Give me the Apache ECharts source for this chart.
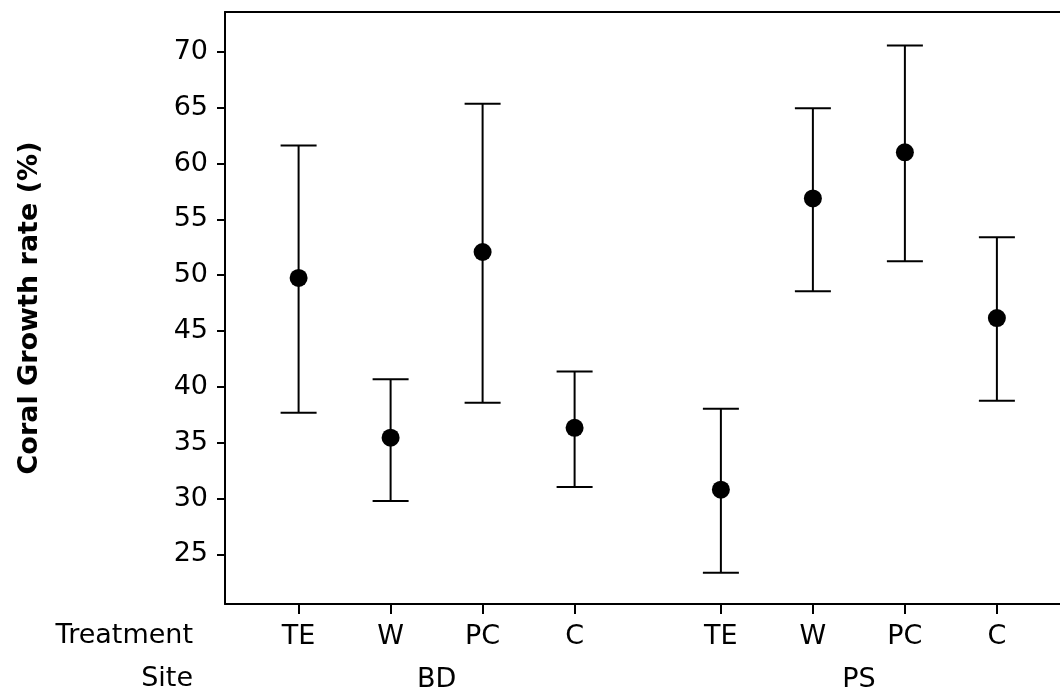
<!DOCTYPE html>
<html><head><meta charset="utf-8">
<script src="https://cdn.jsdelivr.net/npm/echarts@6/dist/echarts.min.js"></script>
<style>html,body{margin:0;padding:0;background:#fff}#c{width:1060px;height:695px}</style>
</head><body><div id="c"></div>
<script>
const treatments = ['TE', 'W', 'PC', 'C'];
const sites = ['BD', 'PS'];
const means = [49.76, 35.45, 52.08, 36.34, 30.80, 56.88, 61.01, 46.16];
const upper = [61.61, 40.68, 65.36, 41.39, 38.04, 64.96, 70.56, 53.39];
const lower = [37.68, 29.79, 38.57, 31.04, 23.36, 48.57, 51.25, 38.75];
const yTicks = [25, 30, 35, 40, 45, 50, 55, 60, 65, 70];
const yMin = 20.56, yMax = 73.57;
const xMin = 0.2, xMax = 9.276;
const yTitle = 'Coral Growth rate (%)';

const groupGap = 1.59;
const xPos = [], xLab = [], siteCenters = [];
sites.forEach((s, si) => {
  const g = [];
  treatments.forEach((t, ti) => {
    const x = +(1 + ti + si * (treatments.length - 1 + groupGap)).toFixed(4);
    xPos.push(x); xLab.push(t); g.push(x);
  });
  siteCenters.push(+((g[0] + g[g.length - 1]) / 2).toFixed(4));
});
const findLab = (v, arr, labs) => { for (let i = 0; i < arr.length; i++) if (Math.abs(arr[i] - v) < 1e-6) return labs[i]; return ''; };

const FONT = 'DejaVu Sans';
const txt = { color: '#000', fontFamily: FONT, fontSize: 27 };
const black2 = { color: '#000', width: 2 };
const chart = echarts.init(document.getElementById('c'));
chart.setOption({
  animation: false,
  backgroundColor: '#fff',
  grid: { left: 225, top: 12, right: 0, bottom: 91, show: false, containLabel: false },
  xAxis: [{
    type: 'value', min: xMin, max: xMax, position: 'bottom',
    axisLine: { show: true, lineStyle: black2 },
    axisTick: { show: true, customValues: xPos, length: 10, lineStyle: black2 },
    axisLabel: Object.assign({ customValues: xPos, margin: 19, formatter: v => findLab(v, xPos, xLab) }, txt),
    splitLine: { show: false }
  }, {
    type: 'value', min: xMin, max: xMax, position: 'bottom', offset: 43,
    axisLine: { show: false }, axisTick: { show: false },
    axisLabel: Object.assign({ customValues: siteCenters, margin: 19, formatter: v => findLab(v, siteCenters, sites) }, txt),
    splitLine: { show: false }
  }, {
    type: 'value', min: xMin, max: xMax, position: 'top',
    axisLine: { show: true, lineStyle: black2 }, axisTick: { show: false },
    axisLabel: { show: false }, splitLine: { show: false }
  }],
  yAxis: {
    type: 'value', min: yMin, max: yMax,
    axisLine: { show: true, lineStyle: black2 },
    axisTick: { show: true, customValues: yTicks, length: 8, lineStyle: black2 },
    axisLabel: Object.assign({ customValues: yTicks, margin: 17 }, txt),
    splitLine: { show: false },
    name: yTitle, nameLocation: 'middle', nameGap: 182, nameRotate: 90,
    nameTextStyle: { color: '#000', fontFamily: FONT, fontSize: 27, fontWeight: 'bold' }
  },
  graphic: [
    { type: 'text', right: 1060 - 193, top: 635 - 13, style: { text: 'Treatment', fill: '#000', font: '27px "DejaVu Sans"' } },
    { type: 'text', right: 1060 - 193, top: 678 - 13, style: { text: 'Site', fill: '#000', font: '27px "DejaVu Sans"' } }
  ],
  series: [{
    type: 'custom',
    data: xPos.map((x, i) => [x, lower[i], upper[i]]),
    encode: { x: 0, y: [1, 2] },
    renderItem: (params, api) => {
      const x = api.value(0);
      const pHi = api.coord([x, api.value(2)]);
      const pLo = api.coord([x, api.value(1)]);
      const hw = 18;
      const style = { stroke: '#000', lineWidth: 2, fill: null };
      return { type: 'group', children: [
        { type: 'line', shape: { x1: pHi[0], y1: pHi[1], x2: pLo[0], y2: pLo[1] }, style },
        { type: 'line', shape: { x1: pHi[0] - hw, y1: pHi[1], x2: pHi[0] + hw, y2: pHi[1] }, style },
        { type: 'line', shape: { x1: pLo[0] - hw, y1: pLo[1], x2: pLo[0] + hw, y2: pLo[1] }, style }
      ] };
    },
    z: 2
  }, {
    type: 'scatter',
    data: xPos.map((x, i) => [x, means[i]]),
    symbol: 'circle', symbolSize: 18,
    itemStyle: { color: '#000', opacity: 1 },
    z: 3
  }]
});
</script></body></html>
